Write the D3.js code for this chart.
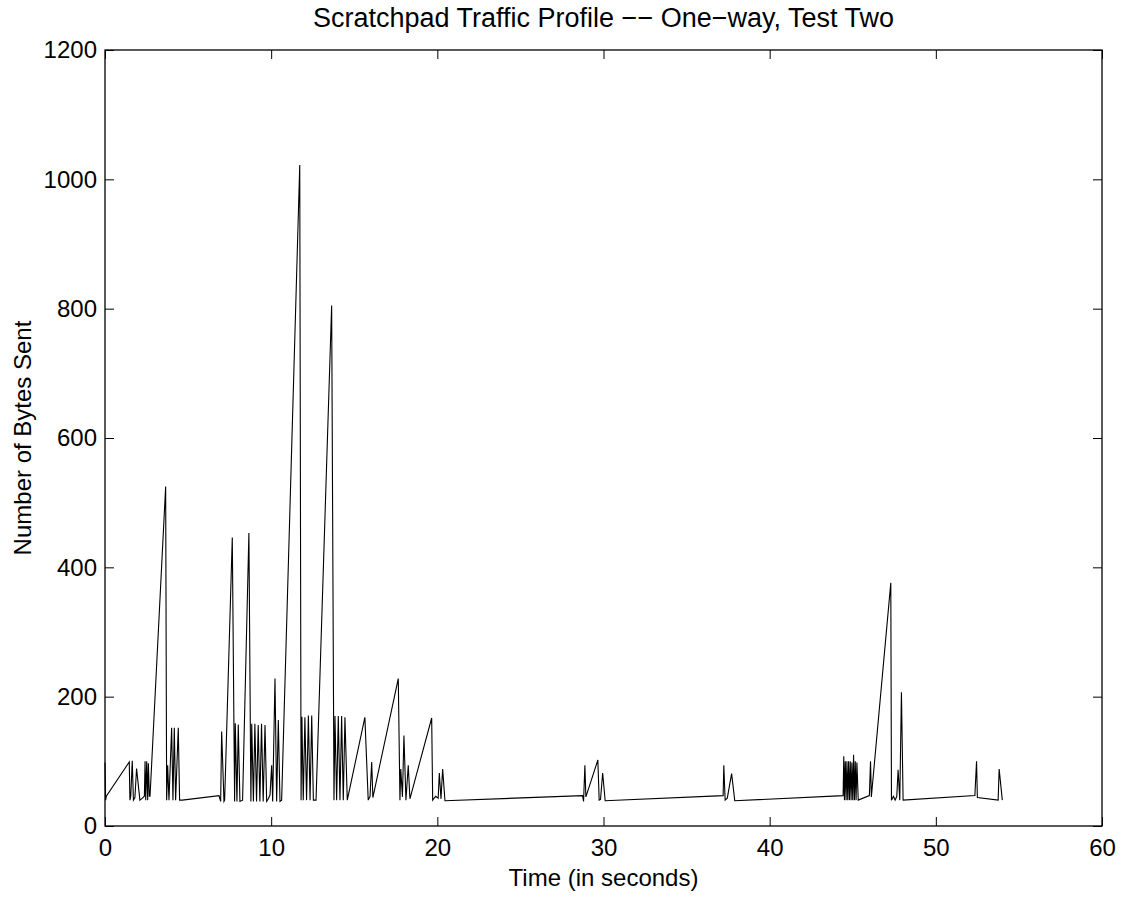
<!DOCTYPE html>
<html>
<head>
<meta charset="utf-8">
<script src="https://cdn.jsdelivr.net/npm/d3@7/dist/d3.min.js"></script>
<style>
  body { margin: 0; background: #fff; }
  svg text { font-family: "Liberation Sans", Arial, Helvetica, sans-serif; fill: #000; }
</style>
</head>
<body>
<div id="chart"></div>
<script>
var title = "Scratchpad Traffic Profile \u2212\u2212 One\u2212way, Test Two";
var xAxisLabel = "Time (in seconds)";
var yAxisLabel = "Number of Bytes Sent";
var xTicks = [0, 10, 20, 30, 40, 50, 60];
var yTicks = [0, 200, 400, 600, 800, 1000, 1200];

// time (s) of each sample
var times = [
    0.00, 0.04, 0.08, 1.46, 1.50, 1.55, 1.64, 1.71, 1.80, 1.90,
    2.10, 2.25, 2.37, 2.41, 2.45, 2.51, 2.57, 2.61, 2.67, 2.71,
    3.65, 3.71, 3.77, 3.85, 4.01, 4.09, 4.17, 4.25, 4.41, 4.49,
    4.65, 6.86, 6.96, 7.02, 7.16, 7.20, 7.66, 7.80, 7.84, 7.94,
    8.02, 8.12, 8.28, 8.66, 8.78, 8.83, 8.93, 9.02, 9.12, 9.22,
    9.32, 9.42, 9.52, 9.63, 9.73, 9.83, 9.93, 10.03, 10.09, 10.23,
    10.33, 10.43, 10.53, 10.63, 11.72, 11.80, 11.85, 11.93, 12.03, 12.13,
    12.24, 12.34, 12.44, 12.54, 12.70, 13.64, 13.78, 13.84, 13.94, 14.04,
    14.14, 14.24, 14.34, 14.44, 14.58, 15.64, 15.84, 15.95, 16.05, 16.12,
    17.65, 17.75, 17.80, 17.90, 17.99, 18.11, 18.25, 18.35, 19.66, 19.72,
    19.90, 20.05, 20.12, 20.22, 20.32, 20.46, 28.74, 28.80, 28.88, 28.94,
    29.66, 29.74, 29.82, 29.95, 30.10, 37.20, 37.24, 37.32, 37.45, 37.71,
    37.90, 44.42, 44.46, 44.50, 44.55, 44.60, 44.65, 44.70, 44.75, 44.80,
    44.85, 44.90, 44.95, 45.00, 45.05, 45.10, 45.15, 45.20, 45.25, 45.33,
    46.00, 46.07, 46.12, 47.29, 47.33, 47.45, 47.55, 47.65, 47.73, 47.83,
    47.93, 48.03, 52.35, 52.45, 52.50, 53.75, 53.81, 54.00
];

// bytes sent at each sample
var bytes = [
    98, 40, 46, 99, 40, 46, 101, 40, 44, 89,
    40, 43, 46, 100, 40, 100, 40, 97, 46, 46,
    525, 40, 94, 40, 152, 40, 152, 40, 152, 40,
    40, 47, 38, 146, 38, 40, 446, 38, 159, 38,
    157, 38, 40, 453, 38, 158, 38, 158, 38, 156,
    38, 158, 38, 156, 38, 42, 48, 94, 38, 228,
    38, 164, 38, 40, 1022, 40, 169, 40, 168, 40,
    171, 40, 171, 40, 40, 805, 40, 170, 40, 170,
    40, 170, 40, 168, 40, 168, 40, 46, 99, 44,
    228, 40, 88, 45, 140, 40, 94, 42, 167, 40,
    46, 43, 82, 42, 88, 39, 47, 38, 94, 45,
    102, 40, 41, 82, 39, 47, 94, 40, 43, 81,
    39, 47, 108, 40, 100, 40, 100, 40, 100, 40,
    100, 40, 98, 40, 110, 40, 100, 40, 98, 40,
    47, 100, 45, 376, 40, 46, 40, 46, 87, 40,
    207, 40, 47, 100, 44, 40, 88, 40
];

var width = 1126, height = 899;
var margin = { top: 50, right: 24, bottom: 73, left: 105 };
var plotW = width - margin.left - margin.right;
var plotH = height - margin.top - margin.bottom;
var tickLen = 9;
var fontSize = 24;

var svg = d3.select("#chart")
    .append("svg")
    .attr("width", width)
    .attr("height", height);

var x = d3.scaleLinear().domain([0, 60]).range([0, plotW]);
var y = d3.scaleLinear().domain([0, 1200]).range([plotH, 0]);

var g = svg.append("g")
    .attr("transform", "translate(" + margin.left + "," + margin.top + ")");

var points = times.map(function(t, i) { return [t, bytes[i]]; });

var line = d3.line()
    .x(function(d) { return x(d[0]); })
    .y(function(d) { return y(d[1]); });

g.append("path")
    .datum(points)
    .attr("fill", "none")
    .attr("stroke", "#000")
    .attr("stroke-width", 1.1)
    .attr("d", line);

// matlab style box, ticks point inward on all four sides
function styleAxis(sel) {
    sel.select(".domain").remove();
    sel.selectAll("line").attr("stroke", "#000").attr("stroke-width", 1);
    sel.selectAll("text").attr("font-size", fontSize);
}

g.append("g")
    .attr("transform", "translate(0," + plotH + ")")
    .call(d3.axisBottom(x).tickValues(xTicks).tickSize(-tickLen).tickPadding(13).tickFormat(d3.format("d")))
    .call(styleAxis);

g.append("g")
    .call(d3.axisTop(x).tickValues(xTicks).tickSize(-tickLen).tickFormat(""))
    .call(styleAxis);

g.append("g")
    .call(d3.axisLeft(y).tickValues(yTicks).tickSize(-tickLen).tickPadding(8).tickFormat(d3.format("d")))
    .call(styleAxis);

g.append("g")
    .attr("transform", "translate(" + plotW + ",0)")
    .call(d3.axisRight(y).tickValues(yTicks).tickSize(-tickLen).tickFormat(""))
    .call(styleAxis);

g.append("rect")
    .attr("width", plotW)
    .attr("height", plotH)
    .attr("fill", "none")
    .attr("stroke", "#000")
    .attr("stroke-width", 1.3);

svg.append("text")
    .attr("x", margin.left + plotW / 2)
    .attr("y", 27)
    .attr("text-anchor", "middle")
    .attr("font-size", 27)
    .text(title);

svg.append("text")
    .attr("x", margin.left + plotW / 2)
    .attr("y", 886)
    .attr("text-anchor", "middle")
    .attr("font-size", fontSize)
    .text(xAxisLabel);

svg.append("text")
    .attr("transform", "translate(31," + (margin.top + plotH / 2) + ") rotate(-90)")
    .attr("text-anchor", "middle")
    .attr("font-size", fontSize)
    .text(yAxisLabel);
</script>
</body>
</html>
